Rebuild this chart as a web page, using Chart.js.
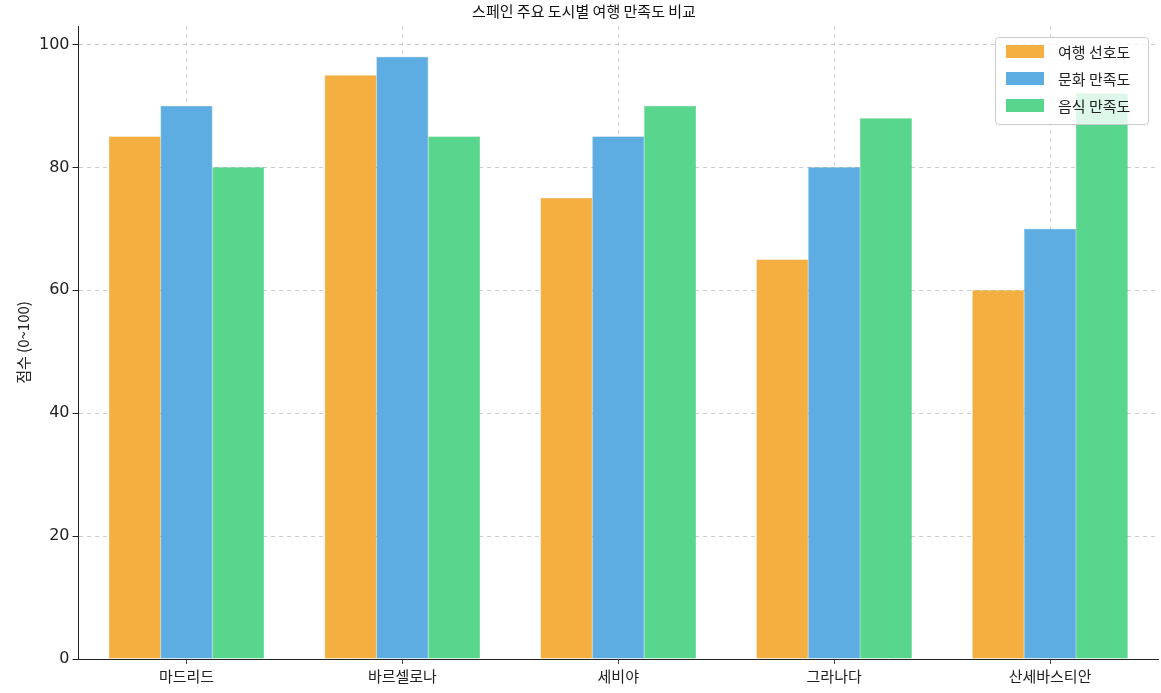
<!DOCTYPE html>
<html><head><meta charset="utf-8">
<script src="https://cdn.jsdelivr.net/npm/chart.js@4"></script>
<style>
body{margin:0;background:#fff;font-family:"Noto Sans CJK KR","DejaVu Sans",sans-serif;}
#wrap{position:relative;width:1161px;height:693px;}
#lg{position:absolute;left:995px;top:37px;width:152px;height:86px;border:1px solid #ccc;border-radius:4px;background:rgba(255,255,255,0.8);font-size:15px;color:#222;}
#lg div{height:27px;display:flex;align-items:center;padding-left:10px;}
#lg span{display:inline-block;width:38px;height:13px;margin-right:14px;}
</style></head><body>
<div id="wrap"><canvas id="c" width="1161" height="693"></canvas>
<div id="lg"></div></div>
<script>
const categories=["마드리드","바르셀로나","세비야","그라나다","산세바스티안"];
const seriesNames=["여행 선호도","문화 만족도","음식 만족도"];
const travel=[85,95,75,65,60];
const culture=[90,98,85,80,70];
const food=[80,85,90,88,92];
const yTicks=[0,20,40,60,80,100];
const colors=["#F5AF41","#5DADE2","#58D68D"];
const edges=["#E59A20","#3E8FC8","#3CBF70"];
const lg=document.getElementById('lg');
seriesNames.forEach((n,i)=>{lg.innerHTML+=`<div><span style="background:${colors[i]}"></span>${n}</div>`;});
new Chart(document.getElementById('c'),{type:'bar',
data:{labels:categories,datasets:[travel,culture,food].map((d,i)=>({label:seriesNames[i],data:d,backgroundColor:colors[i],borderColor:edges[i],borderWidth:0.5,categoryPercentage:0.72,barPercentage:1}))},
options:{responsive:false,animation:false,layout:{padding:{top:0,right:3,left:10,bottom:5}},
plugins:{legend:{display:false},title:{display:true,text:"스페인 주요 도시별 여행 만족도 비교",color:"#111",font:{size:15,family:"Noto Sans CJK KR",weight:'normal'},padding:{top:2,bottom:6}}},
scales:{x:{grid:{display:true,offset:false,color:"#ccc",lineWidth:0.8,tickLength:5,tickColor:"#222"},border:{color:"#222",dash:[4,4]},ticks:{color:"#222",font:{size:15,family:"Noto Sans CJK KR"}}},
y:{min:0,max:103,afterBuildTicks:a=>{a.ticks=yTicks.map(v=>({value:v}));},grid:{color:"#ccc",tickLength:6,tickColor:"#222"},border:{color:"#222",dash:[4,4]},
title:{display:true,text:"점수 (0~100)",color:"#222",font:{size:15,family:"Noto Sans CJK KR"}},ticks:{color:"#222",font:{size:16,family:"DejaVu Sans"}}}}}});
</script></body></html>
